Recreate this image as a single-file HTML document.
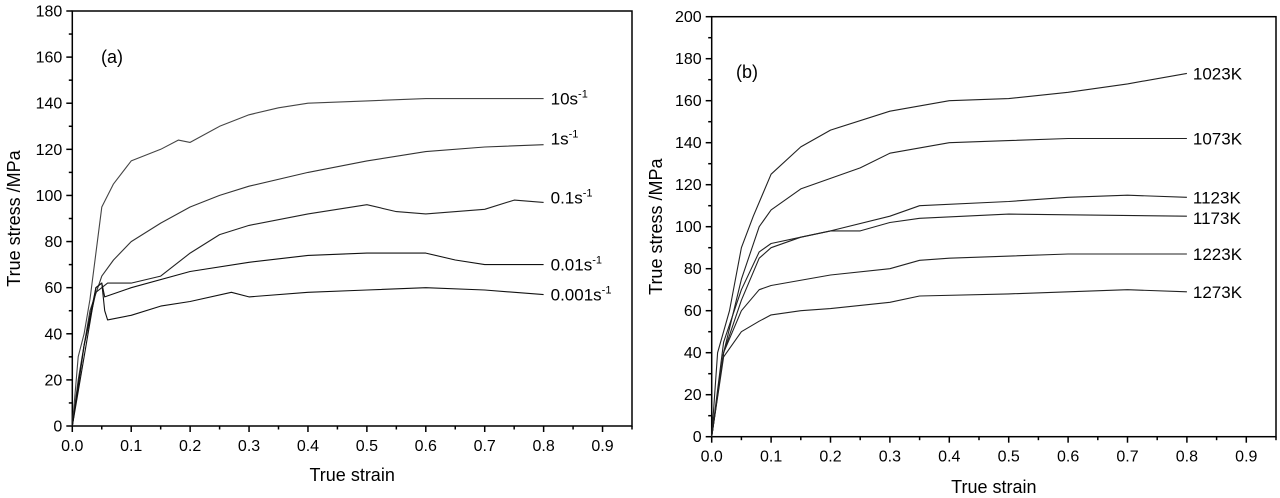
<!DOCTYPE html>
<html><head><meta charset="utf-8">
<style>
html,body{margin:0;padding:0;background:#fff;}
svg{display:block;font-family:"Liberation Sans",Arial,sans-serif;}
</style></head>
<body>
<svg id="chart" width="1280" height="498" viewBox="0 0 1280 498"></svg>
<script>
// ---- Panel (a) data ----
const aLabels = ['10s', '1s', '0.1s', '0.01s', '0.001s'];
const aRate10 = [[0,0],[0.01,30],[0.02,40],[0.03,55],[0.04,75],[0.05,95],[0.07,105],[0.1,115],[0.15,120],[0.18,124],[0.2,123],[0.25,130],[0.3,135],[0.35,138],[0.4,140],[0.5,141],[0.6,142],[0.7,142],[0.8,142]];
const aRate1 = [[0,0],[0.01,20],[0.03,50],[0.05,65],[0.07,72],[0.1,80],[0.15,88],[0.2,95],[0.25,100],[0.3,104],[0.4,110],[0.5,115],[0.6,119],[0.7,121],[0.8,122]];
const aRate01 = [[0,0],[0.02,35],[0.04,58],[0.06,62],[0.1,62],[0.15,65],[0.2,75],[0.25,83],[0.3,87],[0.4,92],[0.5,96],[0.55,93],[0.6,92],[0.7,94],[0.75,98],[0.8,97]];
const aRate001 = [[0,0],[0.02,30],[0.04,60],[0.05,62],[0.055,56],[0.1,60],[0.2,67],[0.3,71],[0.4,74],[0.5,75],[0.6,75],[0.65,72],[0.7,70],[0.8,70]];
const aRate0001 = [[0,0],[0.02,35],[0.04,60],[0.05,62],[0.055,50],[0.06,46],[0.1,48],[0.15,52],[0.2,54],[0.27,58],[0.3,56],[0.4,58],[0.5,59],[0.6,60],[0.7,59],[0.8,57]];
const aYTicks = [0,20,40,60,80,100,120,140,160,180];
// ---- Panel (b) data ----
const bLabels = ['1023K','1073K','1123K','1173K','1223K','1273K'];
const bT1023 = [[0,0],[0.01,40],[0.03,60],[0.05,90],[0.07,105],[0.1,125],[0.15,138],[0.2,146],[0.3,155],[0.4,160],[0.5,161],[0.6,164],[0.7,168],[0.8,173]];
const bT1073 = [[0,0],[0.02,40],[0.05,75],[0.08,100],[0.1,108],[0.15,118],[0.2,123],[0.25,128],[0.3,135],[0.4,140],[0.5,141],[0.6,142],[0.8,142]];
const bT1123 = [[0,0],[0.02,45],[0.05,70],[0.08,88],[0.1,92],[0.15,95],[0.2,98],[0.3,105],[0.35,110],[0.5,112],[0.6,114],[0.7,115],[0.8,114]];
const bT1173 = [[0,0],[0.02,40],[0.05,65],[0.08,85],[0.1,90],[0.15,95],[0.2,98],[0.25,98],[0.3,102],[0.35,104],[0.5,106],[0.8,105]];
const bT1223 = [[0,0],[0.02,40],[0.05,60],[0.08,70],[0.1,72],[0.2,77],[0.3,80],[0.35,84],[0.4,85],[0.6,87],[0.8,87]];
const bT1273 = [[0,0],[0.02,38],[0.05,50],[0.08,55],[0.1,58],[0.15,60],[0.2,61],[0.3,64],[0.35,67],[0.5,68],[0.7,70],[0.8,69]];
const bYTicks = [0,20,40,60,80,100,120,140,160,180,200];
const xTicks = [0,0.1,0.2,0.3,0.4,0.5,0.6,0.7,0.8,0.9];

const NS='http://www.w3.org/2000/svg';
const svg=document.getElementById('chart');
function mk(tag,attrs,parent){const e=document.createElementNS(NS,tag);for(const k in attrs)e.setAttribute(k,attrs[k]);(parent||svg).appendChild(e);return e;}

function panel(cfg){
  const g=mk('g',{});
  
  
  const X=v=>cfg.x0+v*(cfg.x1-cfg.x0)/0.95;
  const Y=v=>cfg.y0-v*(cfg.y0-cfg.yTop)/cfg.ymax;
  const fr=mk('rect',{x:cfg.x0,y:cfg.yTop,width:cfg.x1-cfg.x0,height:cfg.y0-cfg.yTop,fill:'none',stroke:'#000','stroke-width':1.5},g);
  
  
  xTicks.forEach((t,i)=>{
    mk('line',{x1:X(t),x2:X(t),y1:cfg.y0,y2:cfg.y0+6,stroke:'#000','stroke-width':1.5},g);
    mk('line',{x1:X(t+0.05),x2:X(t+0.05),y1:cfg.y0,y2:cfg.y0+3.5,stroke:'#000','stroke-width':1.5},g);
    const tx=mk('text',{x:X(t),y:cfg.y0+25,'text-anchor':'middle','font-size':16},g);
    tx.textContent=t.toFixed(1);
    
    
  });
  const step=cfg.yTicks[1]-cfg.yTicks[0];
  cfg.yTicks.forEach(t=>{
    mk('line',{x1:cfg.x0-6,x2:cfg.x0,y1:Y(t),y2:Y(t),stroke:'#000','stroke-width':1.5},g);
    if(t<cfg.ymax) mk('line',{x1:cfg.x0-3.5,x2:cfg.x0,y1:Y(t+step/2),y2:Y(t+step/2),stroke:'#000','stroke-width':1.5},g);
    const ty=mk('text',{x:cfg.x0-10,y:Y(t)+5.5,'text-anchor':'end','font-size':16},g);
    ty.textContent=t;
    
    
  });
  const xt=mk('text',{x:(cfg.x0+cfg.x1)/2,y:cfg.xTitleY,'text-anchor':'middle','font-size':18},g);
  xt.textContent='True strain';
  
  
  const yt=mk('text',{x:0,y:0,'text-anchor':'middle','font-size':18,transform:`translate(${cfg.yTitleX},${(cfg.y0+cfg.yTop)/2}) rotate(-90)`},g);
  yt.textContent='True stress /MPa';
  
  
  const pl=mk('text',{x:cfg.panelX,y:cfg.panelY,'font-size':18},g);
  pl.textContent=cfg.panelLabel;
  
  
  cfg.series.forEach((s,i)=>{
    const d=s.map((p,j)=>(j?'L':'M')+X(p[0]).toFixed(1)+' '+Y(p[1]).toFixed(1)).join(' ');
    const path=mk('path',{d:d,fill:'none',stroke:cfg.colors[i],'stroke-width':1.1,'stroke-linejoin':'round'},g);
    
    
    const last=s[s.length-1];
    const lt=mk('text',{x:X(last[0])+cfg.labelDx,y:Y(last[1])+cfg.labelDy[i],'font-size':17},g);
    lt.textContent=cfg.labels[i];
    if(cfg.sup){const sp=mk('tspan',{dy:-7,'font-size':11},lt);sp.textContent='-1';}
    
    
  });
}

panel({name:'panel-a',x0:72.3,x1:632,y0:426,yTop:11,ymax:180,yTicks:aYTicks,
  series:[aRate10,aRate1,aRate01,aRate001,aRate0001],labels:aLabels,sup:true,
  colors:['#444','#333','#222','#111','#111'],labelDx:7,labelDy:[6,0,1,6,6],
  xTitleY:481,yTitleX:20,panelLabel:'(a)',panelX:101,panelY:63});
panel({name:'panel-b',x0:711.7,x1:1276,y0:436.7,yTop:16.7,ymax:200,yTicks:bYTicks,
  series:[bT1023,bT1073,bT1123,bT1173,bT1223,bT1273],labels:bLabels,sup:false,
  colors:['#222','#222','#222','#222','#222','#222'],labelDx:6,labelDy:[6,6,6,8,6,6],
  xTitleY:493,yTitleX:662,panelLabel:'(b)',panelX:736,panelY:78});
</script>
</body></html>
